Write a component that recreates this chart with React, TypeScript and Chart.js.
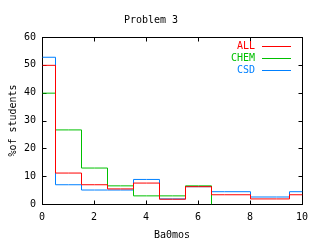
import React, { useEffect, useRef } from "react";
import { Chart, registerables } from "chart.js";

Chart.register(...registerables);

const TITLE = "Problem 3";
const X_LABEL = "Ba0mos";
const Y_LABEL = "%of students";

const allX = [0, 1, 2, 3, 4, 5, 6, 7, 9, 10];
const allY = [50, 11.3, 7.1, 5.6, 7.7, 1.9, 6.4, 3.5, 2.0, 3.5];

const chemX = [0, 1, 2, 3, 4, 5, 6];
const chemY = [40, 26.8, 13.1, 6.7, 3.1, 3.1, 6.7];

const csdX = [0, 1, 2, 3, 4, 5, 6, 7, 9, 10];
const csdY = [52.9, 7.1, 5.2, 5.2, 9.0, 2.0, 6.4, 4.6, 2.7, 4.6];

const SERIES = [
  { label: "ALL", xs: allX, ys: allY, color: "#ff0000" },
  { label: "CHEM", xs: chemX, ys: chemY, color: "#00c000" },
  { label: "CSD", xs: csdX, ys: csdY, color: "#0080ff" },
];

const FONT = "'DejaVu Sans Mono', 'Liberation Mono', monospace";

// gnuplot "histeps": steps at midpoints, end bins half-width, end bars to 0
function histeps(xs: number[], ys: number[]) {
  const n = xs.length;
  const w0 = (xs[1] - xs[0]) / 2;
  const wn = (xs[n - 1] - xs[n - 2]) / 2;
  const pts: { x: number; y: number }[] = [];
  pts.push({ x: xs[0] - w0, y: 0 }, { x: xs[0] - w0, y: ys[0] });
  xs.forEach((x, i) => pts.push({ x, y: ys[i] }));
  pts.push({ x: xs[n - 1] + wn, y: ys[n - 1] }, { x: xs[n - 1] + wn, y: 0 });
  return pts;
}

const framePlugin = {
  id: "frame",
  beforeDatasetsDraw(chart: any) {
    const { ctx, chartArea } = chart;
    const { left, right, top, bottom } = chartArea;
    const L = Math.round(left) + 0.5;
    const R = Math.round(right) + 0.5;
    const T = Math.round(top) + 0.5;
    const B = Math.round(bottom) + 0.5;
    ctx.save();
    ctx.strokeStyle = "#000";
    ctx.lineWidth = 1;
    ctx.strokeRect(L, T, R - L, B - T);
    const tl = 4;
    ctx.beginPath();
    chart.scales.x.ticks.forEach((t: any) => {
      const px = Math.round(chart.scales.x.getPixelForValue(t.value)) + 0.5;
      ctx.moveTo(px, B);
      ctx.lineTo(px, B - tl);
      ctx.moveTo(px, T);
      ctx.lineTo(px, T + tl);
    });
    chart.scales.y.ticks.forEach((t: any) => {
      const py = Math.round(chart.scales.y.getPixelForValue(t.value)) + 0.5;
      ctx.moveTo(L, py);
      ctx.lineTo(L + tl, py);
      ctx.moveTo(R, py);
      ctx.lineTo(R - tl, py);
    });
    ctx.stroke();
    ctx.restore();
  },
};

// shift dataset strokes half a pixel so 1px lines render crisply
const crispPlugin = {
  id: "crisp",
  beforeDatasetsDraw(chart: any) {
    chart.ctx.save();
    chart.ctx.translate(0.5, 0.5);
  },
  afterDatasetsDraw(chart: any) {
    chart.ctx.restore();
  },
};

const legendPlugin = {
  id: "gpLegend",
  afterDraw(chart: any) {
    const { ctx, chartArea } = chart;
    ctx.save();
    ctx.font = `10px ${FONT}`;
    ctx.textAlign = "right";
    ctx.textBaseline = "middle";
    chart.data.datasets.forEach((ds: any, i: number) => {
      const y = Math.round(chartArea.top + 9 + i * 12);
      ctx.fillStyle = ds.borderColor;
      ctx.fillText(ds.label, chartArea.right - 47, y);
      ctx.strokeStyle = ds.borderColor;
      ctx.lineWidth = 1;
      ctx.beginPath();
      ctx.moveTo(chartArea.right - 40, y + 0.5);
      ctx.lineTo(chartArea.right - 11, y + 0.5);
      ctx.stroke();
    });
    ctx.restore();
  },
};

export default function App() {
  const ref = useRef<HTMLCanvasElement>(null);
  useEffect(() => {
    document.body.style.margin = "0";
    if (!ref.current) return;
    const chart = new Chart(ref.current, {
      type: "line",
      data: {
        datasets: SERIES.map((s) => ({
          label: s.label,
          data: histeps(s.xs, s.ys),
          borderColor: s.color,
          backgroundColor: s.color,
          borderWidth: 1,
          pointRadius: 0,
          stepped: "middle" as const,
          fill: false,
        })),
      },
      options: {
        animation: false,
        responsive: false,
        devicePixelRatio: 1,
        layout: { padding: { left: 0, right: 18, top: 0, bottom: 0 } },
        plugins: {
          legend: { display: false },
          tooltip: { enabled: false },
          title: {
            display: true,
            text: TITLE,
            color: "#000",
            font: { family: FONT, size: 10, weight: "normal", lineHeight: 1.2 },
            padding: { top: 14, bottom: 11 },
          },
        },
        scales: {
          x: {
            type: "linear",
            min: 0,
            max: 10,
            grid: { display: false, drawTicks: false },
            border: { display: false },
            ticks: {
              stepSize: 2,
              color: "#000",
              padding: 7,
              maxRotation: 0,
              font: { family: FONT, size: 10 },
            },
            title: {
              display: true,
              text: X_LABEL,
              color: "#000",
              font: { family: FONT, size: 10, lineHeight: 1.0 },
              padding: { top: 0, bottom: 0 },
            },
            afterFit: (scale: any) => {
              scale.height = 36;
            },
          },
          y: {
            min: 0,
            max: 60,
            grid: { display: false, drawTicks: false },
            border: { display: false },
            ticks: {
              stepSize: 10,
              color: "#000",
              padding: 6,
              font: { family: FONT, size: 10 },
            },
            title: {
              display: true,
              text: Y_LABEL,
              color: "#000",
              font: { family: FONT, size: 10, lineHeight: 1.2 },
              padding: { top: 7, bottom: 0 },
            },
            afterFit: (scale: any) => {
              scale.width = 42;
            },
          },
        },
      },
      plugins: [framePlugin, crispPlugin, legendPlugin],
    });
    return () => chart.destroy();
  }, []);
  return (
    <div style={{ position: "fixed", left: 0, top: 0, width: 320, height: 240, background: "#fff" }}>
      <canvas ref={ref} width={320} height={240} />
    </div>
  );
}
